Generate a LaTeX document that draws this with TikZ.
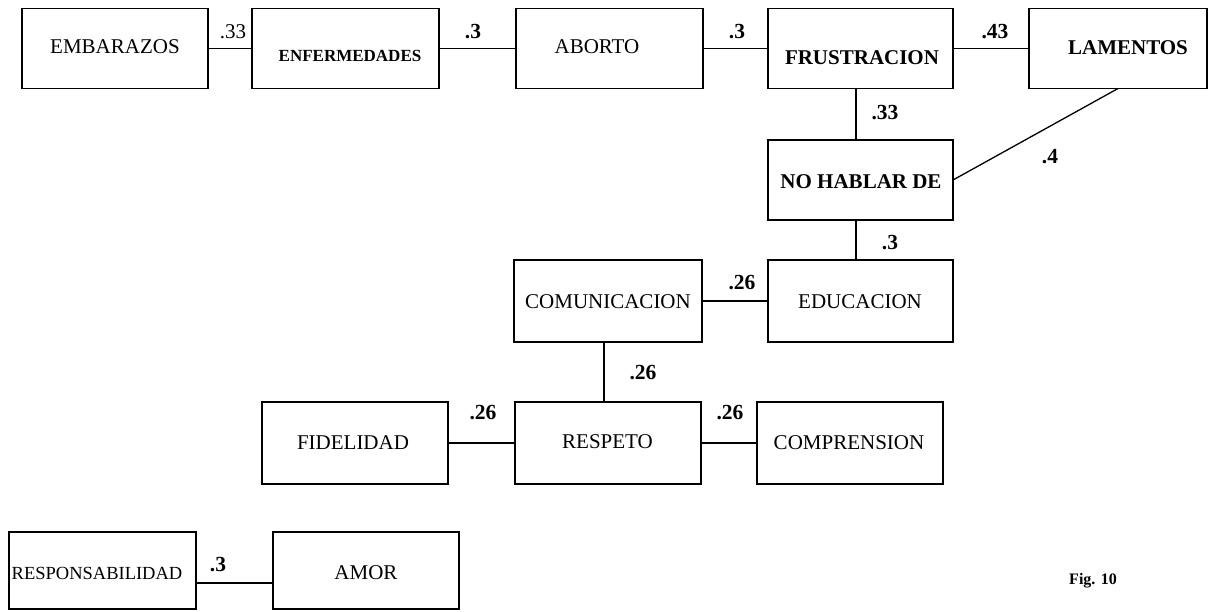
\documentclass[tikz,border=0pt]{standalone}
\usepackage{fontspec}
\setmainfont{Liberation Serif}
\begin{document}
\begin{tikzpicture}[x=1pt,y=-1pt,
  box/.style={draw=black, line width=1.3pt, inner sep=0pt, outer sep=0pt},
  txt/.style={inner sep=0pt, font=\fontsize{21}{24}\selectfont},
  btxt/.style={inner sep=0pt, font=\fontsize{21}{24}\selectfont\bfseries},
  wlab/.style={inner sep=0pt, font=\fontsize{21}{24}\selectfont},
  blab/.style={inner sep=0pt, font=\fontsize{21.5}{24}\selectfont\bfseries},
  conn/.style={line width=1.3pt}]
\useasboundingbox (0,0) rectangle (1208,611);
% boxes
\node[box, minimum width=186pt, minimum height=80pt] (emb) at (115,48.5) {};
\node[box, minimum width=187pt, minimum height=80pt] (enf) at (345.5,48.5) {};
\node[box, minimum width=187pt, minimum height=80pt] (abo) at (609.5,48.5) {};
\node[box, minimum width=185pt, minimum height=80pt] (fru) at (860.5,48.5) {};
\node[box, minimum width=178pt, minimum height=80pt] (lam) at (1118,48.5) {};
\node[box, minimum width=185pt, minimum height=80pt] (noh) at (860.5,180) {};
\node[box, minimum width=185pt, minimum height=82pt] (edu) at (860.5,301) {};
\node[box, minimum width=188pt, minimum height=82pt] (com) at (608,301) {};
\node[box, minimum width=186pt, minimum height=82pt] (res) at (608,443) {};
\node[box, minimum width=186pt, minimum height=82pt] (fid) at (355,443) {};
\node[box, minimum width=186pt, minimum height=82pt] (cpr) at (850,443) {};
\node[box, minimum width=187pt, minimum height=77pt] (rsp) at (102.5,570.5) {};
\node[box, minimum width=186pt, minimum height=77pt] (amo) at (366,570.5) {};
% texts
\node[txt] (embt) at (115,47) {EMBARAZOS};
\node[btxt, font=\fontsize{17}{20}\selectfont\bfseries] (enft) at (350,56) {ENFERMEDADES};
\node[txt] (abot) at (597,47) {ABORTO};
\node[btxt] (frut) at (862,58) {FRUSTRACION};
\node[btxt] (lamt) at (1128,48) {LAMENTOS};
\node[btxt] (noht) at (861,182) {NO HABLAR DE};
\node[txt] (edut) at (860,302) {EDUCACION};
\node[txt] (comt) at (608,302) {COMUNICACION};
\node[txt] (rest) at (607.5,442) {RESPETO};
\node[txt] (fidt) at (353,443) {FIDELIDAD};
\node[txt] (cprt) at (849,443) {COMPRENSION};
\node[txt, font=\fontsize{18.5}{22}\selectfont] (rspt) at (97,573) {RESPONSABILIDAD};
\node[txt] (amot) at (366,573) {AMOR};
% connectors
\draw[conn] (emb.east) -- (enf.west);
\draw[conn] (enf.east) -- (abo.west);
\draw[conn] (abo.east) -- (fru.west);
\draw[conn] (fru.east) -- (lam.west);
\draw[conn] ([xshift=-4.5pt]fru.south) -- ([xshift=-4.5pt]noh.north);
\draw[conn] (lam.south) -- (noh.east);
\draw[conn] ([xshift=-4.5pt]noh.south) -- ([xshift=-4.5pt]edu.north);
\draw[conn] (com.east) -- (edu.west);
\draw[conn] ([xshift=-4pt]com.south) -- ([xshift=-4pt]res.north);
\draw[conn] (fid.east) -- (res.west);
\draw[conn] (res.east) -- (cpr.west);
\draw[conn] ([yshift=-12.5pt]rsp.east) -- ([yshift=-12.5pt]amo.west);
% labels
\node[wlab] (l1) at (233,32) {.33};
\node[blab] (l2) at (473,32) {.3};
\node[blab] (l3) at (737,32) {.3};
\node[blab] (l4) at (995,32) {.43};
\node[blab] (l5) at (885,113) {.33};
\node[blab] (l6) at (1050,157) {.4};
\node[blab] (l7) at (890,243) {.3};
\node[blab] (l8) at (742,283) {.26};
\node[blab] (l9) at (643,373) {.26};
\node[blab] (l10) at (483,413) {.26};
\node[blab] (l11) at (730,413) {.26};
\node[blab] (l12) at (218,565) {.3};
\node[blab, font=\fontsize{16}{20}\selectfont\bfseries] (fig) at (1093,581) {Fig. 10};
\end{tikzpicture}
\end{document}
